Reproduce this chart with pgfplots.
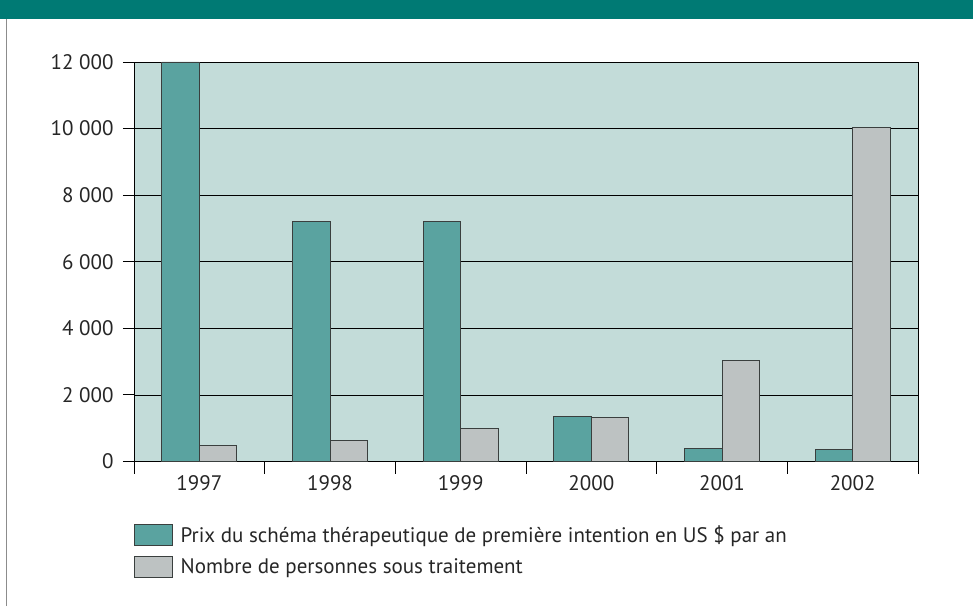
\documentclass[border=0pt]{standalone}
\usepackage{fontspec}
\setmainfont{PT Sans}
\usepackage{pgfplots}
\pgfplotsset{compat=1.18}
\definecolor{bandc}{HTML}{007A74}
\definecolor{bgc}{HTML}{C3DCD9}
\definecolor{tealbar}{HTML}{5AA3A0}
\definecolor{graybar}{HTML}{BDC2C2}
\definecolor{edgec}{HTML}{3A3F3E}
\begin{document}
\begin{tikzpicture}
\path[use as bounding box] (0pt,0pt) rectangle (973pt,606pt);
\fill[bandc] (0pt,587pt) rectangle (973pt,606pt);
\draw[black!45, line width=1pt] (6pt,0pt) -- (6pt,587pt);
\begin{axis}[
  at={(134pt,144.5pt)}, anchor=south west,
  scale only axis, width=784pt, height=399.5pt,
  xmin=-0.5, xmax=5.5, ymin=0, ymax=12000,
  axis background/.style={fill=bgc},
  axis line style={black, line width=0.9pt},
  ybar, bar width=37.5pt,
  xtick={0,1,2,3,4,5},
  xticklabels={1997,1998,1999,2000,2001,2002},
  minor xtick={-0.5,0.5,1.5,2.5,3.5,4.5,5.5},
  ytick={0,2000,4000,6000,8000,10000,12000},
  scaled y ticks=false,
  xtick pos=bottom, ytick pos=left,
  tick align=outside,
  major tick length=11pt, minor tick length=12pt,
  major x tick style={draw=none},
  minor x tick style={black, line width=0.9pt},
  major y tick style={black, line width=0.9pt},
  ymajorgrids,
  major grid style={black, line width=0.8pt},
  tick label style={font=\fontsize{21}{25}\selectfont, text=black!85},
  yticklabel style={xshift=-6pt},
  /pgf/number format/fixed,
  /pgf/number format/1000 sep={\ },
  /pgf/number format/assume math mode=true,
  legend style={at={(0,-0.155)}, anchor=north west, draw=none, fill=none,
    font=\fontsize{21}{25}\selectfont, text=black!85, row sep=10pt, inner sep=0pt},
  legend cell align=left,
]
\addplot[bar shift=-18.75pt, fill=tealbar, draw=edgec, line width=0.9pt,
  legend image code/.code={\draw[fill=tealbar, draw=edgec, line width=0.9pt] (0pt,-10.5pt) rectangle (38pt,10.5pt); \path[draw=none,fill=none] (38pt,0pt) -- (44pt,0pt);}]
  coordinates {(0,12000) (1,7200) (2,7200) (3,1340) (4,385) (5,365)};
\addplot[bar shift=18.75pt, fill=graybar, draw=edgec, line width=0.9pt,
  legend image code/.code={\draw[fill=graybar, draw=edgec, line width=0.9pt] (0pt,-10.5pt) rectangle (38pt,10.5pt); \path[draw=none,fill=none] (38pt,0pt) -- (44pt,0pt);}]
  coordinates {(0,470) (1,620) (2,1000) (3,1330) (4,3030) (5,10040)};
\legend{Prix du schéma thérapeutique de première intention en US \$ par an, Nombre de personnes sous traitement}
\end{axis}
\end{tikzpicture}
\end{document}
